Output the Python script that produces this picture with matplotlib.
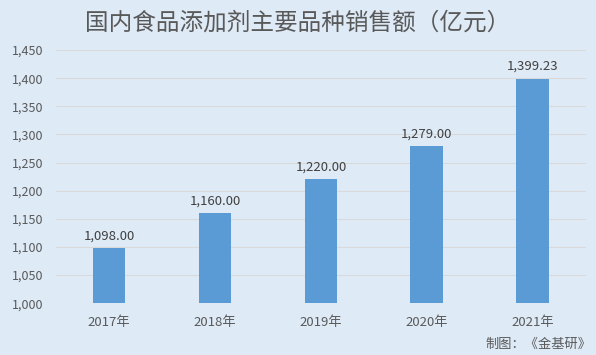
import matplotlib.pyplot as plt

plt.rcParams['font.family'] = ['Noto Sans CJK SC', 'DejaVu Sans']

years = ['2017年', '2018年', '2019年', '2020年', '2021年']
sales = [1098.00, 1160.00, 1220.00, 1279.00, 1399.23]
yticks = list(range(1000, 1451, 50))

bg = '#DEEAF6'
txt = '#595959'

fig = plt.figure(figsize=(5.96, 3.55), dpi=100, facecolor=bg)
ax = fig.add_axes([0.094, 0.146, 0.889, 0.713], facecolor=bg)

x = range(len(years))
ax.bar(x, sales, width=0.31, color='#5B9BD5', zorder=3)
for i, v in zip(x, sales):
    ax.text(i, v + 10, f'{v:,.2f}', ha='center', va='bottom', fontsize=9.5, color='#404040')

ax.set_xlim(-0.5, 4.5)
ax.set_ylim(1000, 1450)
ax.set_yticks(yticks)
ax.set_yticklabels([f'{t:,}' for t in yticks])
ax.set_xticks(list(x))
ax.set_xticklabels(years)
ax.tick_params(axis='both', length=0, colors=txt, labelsize=9)
ax.tick_params(axis='x', pad=9, labelsize=9.5)
ax.tick_params(axis='y', pad=9)
ax.grid(axis='y', color='#D9D9D9', linewidth=0.8, zorder=0)
for s in ax.spines.values():
    s.set_visible(False)

fig.text(0.5, 0.935, '国内食品添加剂主要品种销售额（亿元）', ha='center', va='center',
         fontsize=17, color=txt)
fig.text(0.992, 0.012, '制图：《金基研》', ha='right', va='bottom', fontsize=9.5, color=txt)

fig.savefig('out.png', dpi=100, facecolor=bg)
